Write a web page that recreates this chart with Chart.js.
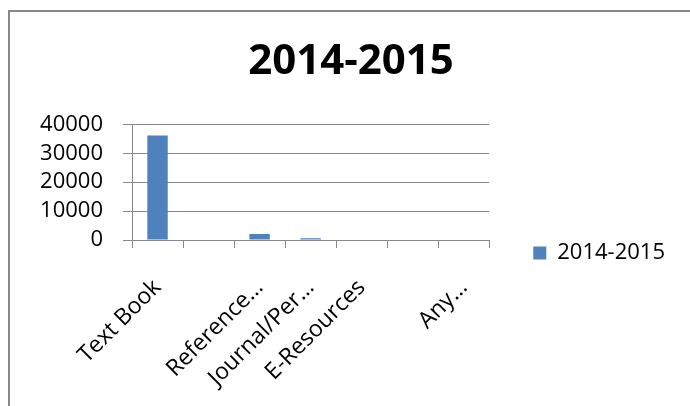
<!DOCTYPE html>
<html>
  <head>
    <title>2014-2015</title>
    <script src="https://cdn.jsdelivr.net/npm/chart.js/dist/chart.umd.min.js"></script>
    <style>
      html, body { margin: 0; padding: 0; background: #fff; overflow: hidden; }
      .frame {
        position: absolute; left: 8px; top: 10px;
        width: 700px; height: 500px;
        border: 2px solid #888888;
      }
      .frame canvas { position: absolute; left: 17px; top: 0; }
    </style>
  </head>
  <body>
    <div class="frame">
      <canvas id="resources" width="648" height="482"></canvas>
    </div>
    <script>
      // resource types and counts for the year
      const categories = ['Text Book', '', 'Reference…', 'Journal/Per…', 'E-Resources', '', 'Any…'];
      const counts = [36200, 0, 2100, 600, 0, 0, 0];
      const yTicks = [0, 10000, 20000, 30000, 40000];
      const seriesName = '2014-2015';

      const lineGray = '#888888';
      const font = 'Open Sans';

      const config = {
        type: 'bar',
        data: {
          labels: categories,
          datasets: [{
            label: seriesName,
            data: counts,
            backgroundColor: '#4F81BD',
            borderWidth: 0,
            barPercentage: 0.4,
            categoryPercentage: 1
          }]
        },
        options: {
          responsive: false,
          animation: false,
          layout: { padding: 0 },
          plugins: {
            title: {
              display: true,
              text: seriesName,
              color: '#000',
              font: { family: font, size: 42, weight: 'bold' },
              padding: { top: 25, bottom: 37 }
            },
            legend: {
              position: 'right',
              maxWidth: 300, // default cap is a quarter of the width, too narrow here
              labels: {
                color: '#000',
                font: { family: font, size: 22 },
                boxWidth: 13,
                boxHeight: 13,
                padding: 44
              }
            },
            tooltip: { enabled: false }
          },
          scales: {
            x: {
              afterFit: (scale) => { scale.height = 254; },
              grid: {
                offset: true,
                drawOnChartArea: false,
                drawTicks: true,
                tickLength: 8,
                color: lineGray
              },
              border: { display: true, color: lineGray, width: 1 },
              ticks: {
                autoSkip: false,
                minRotation: 45,
                maxRotation: 45,
                padding: 26,
                color: '#000',
                font: { family: font, size: 23 }
              }
            },
            y: {
              min: 0,
              max: 40000,
              afterFit: (scale) => { scale.width = 105; },
              afterBuildTicks: (scale) => { scale.ticks = yTicks.map(v => ({ value: v })); },
              grid: {
                drawTicks: true,
                tickLength: 9,
                color: lineGray
              },
              border: { display: true, color: lineGray, width: 1 },
              ticks: {
                autoSkip: false,
                padding: 20,
                color: '#000',
                font: { family: font, size: 22 },
                callback: (value) => String(value)
              }
            }
          }
        }
      };

      const resourcesChart = new Chart(document.getElementById('resources'), config);
    </script>
  </body>
</html>
